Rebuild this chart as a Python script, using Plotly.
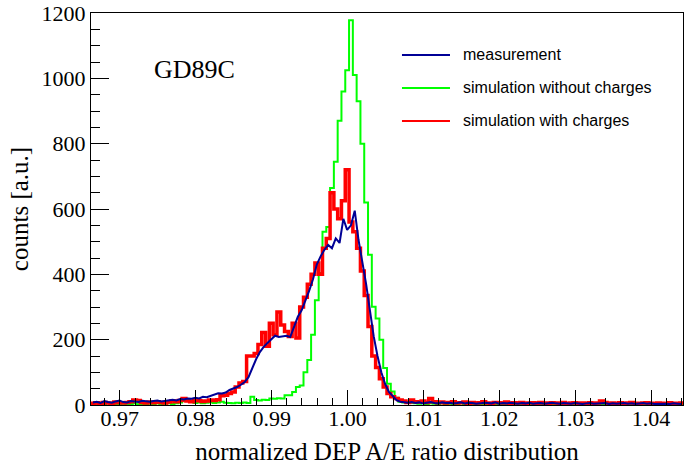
import numpy as np
import plotly.graph_objects as go

# Histogram binning (A/E ratio), 156 bins of width 0.0005
BIN_LO = 0.9662
BIN_WIDTH = 0.0005

measurement = [
    8, 10, 6, 12, 9, 7, 11, 14, 9, 8,
    12, 10, 9, 13, 11, 10, 12, 14, 11, 13,
    15, 16, 14, 18, 17, 20, 19, 22, 20, 25,
    24, 28, 32, 36, 35, 38, 46, 50, 55, 62,
    70, 85, 115, 140, 162, 178, 190, 200, 212, 208,
    210, 212, 208, 240, 270, 290, 318, 350, 385, 430,
    455, 475, 490, 480, 510, 496, 570, 536, 550, 595,
    505, 440, 370, 290, 210, 150, 100, 65, 40, 28,
    15, 10, 8, 7, 9, 6, 8, 5, 7, 9,
    6, 5, 8, 6, 7, 5, 6, 8, 5, 7,
    6, 4, 5, 7, 6, 5, 8, 4, 6, 5,
    7, 5, 4, 6, 5, 7, 4, 5, 6, 4,
    5, 7, 5, 4, 6, 5, 4, 6, 5, 3,
    5, 6, 4, 5, 4, 6, 3, 5, 4, 5,
    6, 4, 5, 3, 4, 6, 4, 5, 3, 4,
    5, 4, 3, 5, 4, 3,
]

sim_without = [
    2, 4, 1, 3, 5, 2, 3, 1, 4, 2,
    3, 5, 2, 1, 3, 4, 2, 5, 3, 4,
    6, 3, 5, 8, 12, 15, 10, 6, 8, 5,
    7, 9, 6, 8, 10, 7, 6, 5, 7, 6,
    8, 6, 25, 15, 14, 16, 15, 20, 19, 21,
    20, 30, 30, 40, 55, 60, 100, 138, 215, 321,
    404, 530, 545, 664, 745, 870, 960, 1025, 1178, 1010,
    930, 800, 620, 460, 301, 265, 200, 113, 65, 41,
    22, 10, 8, 6, 7, 5, 4, 6, 3, 5,
    4, 2, 5, 3, 4, 2, 3, 5, 2, 4,
    3, 1, 3, 2, 4, 2, 3, 1, 2, 4,
    2, 3, 1, 2, 3, 1, 2, 4, 1, 2,
    3, 1, 2, 1, 3, 2, 1, 2, 3, 1,
    2, 1, 2, 1, 3, 1, 2, 1, 2, 1,
    1, 2, 1, 3, 1, 2, 1, 1, 2, 1,
    1, 2, 1, 1, 2, 1,
]

sim_with = [
    5, 7, 4, 8, 6, 5, 9, 7, 6, 8,
    10, 15, 14, 8, 6, 9, 7, 10, 8, 6,
    9, 12, 10, 14, 20, 12, 10, 15, 13, 11,
    12, 15, 14, 16, 28, 30, 35, 40, 55, 67,
    72, 150, 150, 158, 185, 222, 180, 250, 215, 285,
    245, 225, 210, 250, 205, 300, 330, 370, 400, 435,
    400, 480, 510, 650, 600, 570, 625, 720, 560, 530,
    480, 410, 335, 240, 150, 115, 80, 55, 35, 25,
    20, 15, 12, 8, 15, 10, 9, 12, 8, 20,
    10, 7, 9, 6, 8, 10, 6, 7, 9, 5,
    8, 6, 7, 10, 6, 5, 8, 7, 6, 9,
    5, 7, 6, 8, 5, 6, 7, 5, 8, 6,
    5, 7, 6, 5, 8, 4, 6, 7, 5, 6,
    4, 7, 5, 6, 12, 8, 5, 6, 4, 7,
    5, 6, 8, 5, 4, 6, 7, 5, 4, 6,
    5, 4, 7, 5, 4, 6,
]

legend_labels = ["measurement", "simulation without charges", "simulation with charges"]
x_ticks = [0.97, 0.98, 0.99, 1.00, 1.01, 1.02, 1.03, 1.04]

n = len(measurement)
edges = BIN_LO + BIN_WIDTH * np.arange(n + 1)
centers = edges[:-1] + BIN_WIDTH / 2

BLUE = "#000096"
GREEN = "#00ff00"
RED = "#ff0000"

fig = go.Figure()
fig.add_trace(go.Scatter(x=edges, y=sim_without + [sim_without[-1]], mode="lines",
                         line=dict(color=GREEN, width=2, shape="hv"), showlegend=False))
fig.add_trace(go.Scatter(x=edges, y=sim_with + [sim_with[-1]], mode="lines",
                         line=dict(color=RED, width=3.5, shape="hv"), showlegend=False))
fig.add_trace(go.Scatter(x=centers, y=measurement, mode="lines",
                         line=dict(color=BLUE, width=2), showlegend=False))

serif = "Liberation Serif"
sans = "Liberation Sans"

# legend drawn in paper coordinates
leg_y = [0.893, 0.8087, 0.7245]
for lab, col, yy in zip(legend_labels, [BLUE, GREEN, RED], leg_y):
    fig.add_shape(type="line", xref="paper", yref="paper", x0=0.5253, x1=0.6064,
                  y0=yy, y1=yy, line=dict(color=col, width=2))
    fig.add_annotation(xref="paper", yref="paper", x=0.625, y=yy, text=lab,
                       showarrow=False, xanchor="left", yanchor="middle",
                       font=dict(family=sans, size=16, color="black"))

fig.add_annotation(xref="paper", yref="paper", x=0.175, y=0.855, text="GD89C",
                   showarrow=False, xanchor="center", yanchor="middle",
                   font=dict(family=serif, size=26, color="black"))

fig.update_layout(
    width=685, height=472,
    margin=dict(l=91, r=2, t=13, b=67, autoexpand=False),
    paper_bgcolor="white", plot_bgcolor="white",
    showlegend=False,
    xaxis=dict(
        range=[0.9662, 1.0442], tickvals=x_ticks, tickformat=".2f",
        ticks="inside", ticklen=15, tickcolor="black", tickwidth=1,
        showline=True, linecolor="black", linewidth=1, mirror=True,
        showgrid=False, zeroline=False, automargin=False,
        ticklabelstandoff=-6,
        minor=dict(dtick=0.002, tick0=0.97, ticks="inside", ticklen=7,
                   tickcolor="black", showgrid=False),
        tickfont=dict(family=serif, size=22, color="black"),
        title=dict(text="normalized DEP A/E ratio distribution",
                   font=dict(family=serif, size=25, color="black"), standoff=12),
    ),
    yaxis=dict(
        range=[0, 1200], dtick=200, tick0=0,
        ticks="inside", ticklen=18, tickcolor="black", tickwidth=1,
        showline=True, linecolor="black", linewidth=1, mirror=True,
        showgrid=False, zeroline=False, automargin=False,
        minor=dict(dtick=50, ticks="inside", ticklen=9, tickcolor="black",
                   showgrid=False),
        tickfont=dict(family=serif, size=22, color="black"),
        title=dict(text="counts [a.u.]",
                   font=dict(family=serif, size=25, color="black"), standoff=5),
    ),
)

# remove the default page margin so the figure fills the window exactly
fig.write_html("out.html", config={"displayModeBar": False},
               post_script="document.body.style.margin='0';")
